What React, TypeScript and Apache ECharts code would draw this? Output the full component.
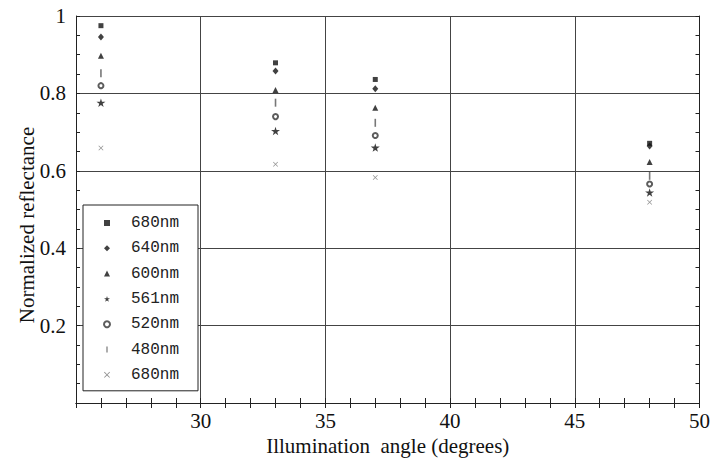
import React, { useEffect, useRef } from "react";
import * as echarts from "echarts";

// Illumination angles (degrees) at which reflectance was measured
const angles = [26, 33, 37, 48];

// Normalized reflectance per wavelength
const r680 = [0.975, 0.879, 0.836, 0.671];
const r640 = [0.946, 0.858, 0.812, 0.664];
const r600 = [0.897, 0.809, 0.763, 0.623];
const r561 = [0.776, 0.703, 0.66, 0.544];
const r520 = [0.82, 0.74, 0.691, 0.566];
const r480 = [0.852, 0.776, 0.724, 0.587];
const r680x = [0.659, 0.617, 0.583, 0.519];

const legendLabels = ["680nm", "640nm", "600nm", "561nm", "520nm", "480nm", "680nm"];
const seriesValues = [r680, r640, r600, r561, r520, r480, r680x];

const yTicks = [0.2, 0.4, 0.6, 0.8, 1];
const xTicks = [30, 35, 40, 45, 50];

const STAR =
  "path://M50,0 L61,35 L98,35 L68,57 L79,91 L50,70 L21,91 L32,57 L2,35 L39,35 Z";
const BAR = "path://M0,0 L1.6,0 L1.6,8 L0,8 Z";
const CROSS =
  "path://M0,1 L1,0 L5,4 L9,0 L10,1 L6,5 L10,9 L9,10 L5,6 L1,10 L0,9 L4,5 Z";

const markers = [
  { symbol: "rect", size: 5, color: "#111" },
  { symbol: "diamond", size: [6, 7], color: "#111" },
  { symbol: "triangle", size: 6, color: "#111" },
  { symbol: STAR, size: 9, color: "#111" },
  { symbol: "emptyCircle", size: 5, color: "#333" },
  { symbol: BAR, size: 8, color: "#555" },
  { symbol: CROSS, size: 5, color: "#777" },
];

const SERIF = "Liberation Serif";
const MONO = "Liberation Mono";

export default function App() {
  const ref = useRef<HTMLDivElement>(null);

  useEffect(() => {
    if (!ref.current) return;
    const chart = echarts.init(ref.current, undefined, { renderer: "svg" });

    const series = seriesValues.map((vals, i) => ({
      type: "scatter",
      name: "s" + i,
      xAxisIndex: 0,
      yAxisIndex: 0,
      symbol: markers[i].symbol,
      symbolSize: markers[i].size,
      symbolKeepAspect: true,
      itemStyle:
        markers[i].symbol === "emptyCircle"
          ? { color: markers[i].color, borderColor: markers[i].color, borderWidth: 1 }
          : { color: markers[i].color },
      data: angles.map((a, j) => [a, vals[j]]),
    }));

    const tickStyle = { color: "#222", width: 1 };
    const serifRich = {
      t: { fontFamily: SERIF, fontSize: 21, color: "#111" },
    };

    chart.setOption({
      animation: false,
      backgroundColor: "#fff",
      textStyle: { fontFamily: SERIF },
      grid: { left: 76, right: 11, top: 16, bottom: 59 },
      legend: {
        orient: "vertical",
        left: 83,
        top: 205,
        data: series.map((s) => s.name),
        itemWidth: 6,
        itemHeight: 6,
        itemGap: 9.3,
        padding: [10, 19, 8, 20],
        borderColor: "#222",
        borderWidth: 1,
        backgroundColor: "#fff",
        selectedMode: false,
        formatter: (name: string) => legendLabels[Number(name.slice(1))],
        textStyle: {
          fontFamily: MONO,
          fontSize: 16,
          lineHeight: 16,
          color: "#222",
          padding: [0, 0, 0, 16],
        },
      },
      xAxis: [
        {
          type: "value",
          min: 25,
          max: 50,
          interval: 5,
          position: "bottom",
          name: "Illumination  angle (degrees)",
          nameLocation: "middle",
          nameGap: 28,
          nameTextStyle: { fontFamily: SERIF, fontSize: 21, color: "#111" },
          axisLine: { show: true, lineStyle: tickStyle },
          axisTick: { show: true, inside: true, length: 5, lineStyle: tickStyle },
          minorTick: { show: true, splitNumber: 5, length: 5, lineStyle: tickStyle },
          axisLabel: {
            fontFamily: SERIF,
            fontSize: 21,
            color: "#111",
            margin: 7,
            rich: serifRich,
            formatter: (v: number) => (xTicks.includes(v) ? "{t|" + v + "}" : ""),
          },
          splitLine: { show: true, lineStyle: { color: "#444", width: 1 } },
        },
        {
          type: "value",
          min: 25,
          max: 50,
          interval: 5,
          position: "top",
          axisLine: { show: true, lineStyle: tickStyle },
          axisTick: { show: true, inside: true, length: 5, lineStyle: tickStyle },
          minorTick: { show: true, splitNumber: 5, length: 5, lineStyle: tickStyle },
          axisLabel: { show: false },
          splitLine: { show: false },
        },
      ],
      yAxis: [
        {
          type: "value",
          min: 0,
          max: 1,
          interval: 0.2,
          position: "left",
          axisLine: { show: true, lineStyle: tickStyle },
          axisTick: { show: true, inside: true, length: 4, lineStyle: tickStyle },
          minorTick: { show: true, splitNumber: 4, length: 4, lineStyle: tickStyle },
          axisLabel: {
            fontFamily: SERIF,
            fontSize: 21,
            color: "#111",
            margin: 10,
            rich: serifRich,
            formatter: (v: number) => {
              const r = Math.round(v * 10) / 10;
              return yTicks.includes(r) ? "{t|" + r + "}" : "";
            },
          },
          splitLine: { show: true, lineStyle: { color: "#444", width: 1 } },
        },
        {
          type: "value",
          min: 0,
          max: 1,
          interval: 0.2,
          position: "right",
          axisLine: { show: true, lineStyle: tickStyle },
          axisTick: { show: true, inside: true, length: 4, lineStyle: tickStyle },
          minorTick: { show: true, splitNumber: 4, length: 4, lineStyle: tickStyle },
          axisLabel: { show: false },
          splitLine: { show: false },
        },
      ],
      graphic: [
        {
          type: "text",
          x: 27,
          y: 225,
          rotation: Math.PI / 2,
          style: {
            text: "Normalized reflectance",
            fontFamily: SERIF,
            fontSize: 21,
            fill: "#111",
            textAlign: "center",
            textVerticalAlign: "middle",
          },
        },
      ],
      series,
    });

    return () => chart.dispose();
  }, []);

  return (
    <div
      ref={ref}
      style={{ position: "absolute", left: 0, top: 0, width: 713, height: 462 }}
    />
  );
}
